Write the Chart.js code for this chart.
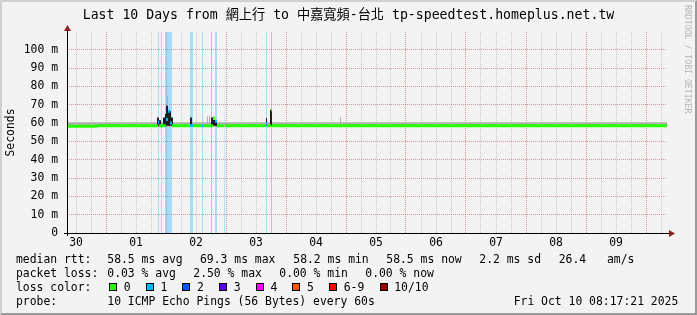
<!DOCTYPE html>
<html>
<head>
<meta charset="utf-8">
<script src="https://cdn.jsdelivr.net/npm/chart.js@4.4.1/dist/chart.umd.min.js"></script>
<style>
  html, body { margin: 0; padding: 0; background: #f3f3f3; }
  #wrap { position: relative; width: 697px; height: 315px; overflow: hidden; background: #f3f3f3;
          font-family: 'DejaVu Sans Mono', 'Noto Sans CJK TC', monospace; color: #000; }
  #chart { position: absolute; left: 0; top: 0; }
  #frame { position: absolute; left: 0; top: 0; width: 697px; height: 315px; box-sizing: border-box;
           border-style: solid; border-width: 2px; border-color: #d0d0d0 #9a9a9a #9a9a9a #d0d0d0; pointer-events: none; }
  .t { position: absolute; white-space: pre; font-size: 11.4px; line-height: 14px; }
  #title { position: absolute; left: 0; width: 697px; top: 6px; text-align: center; font-size: 13.2px; line-height: 17px; white-space: pre; }
  #mark { position: absolute; left: 683px; top: 5px; writing-mode: vertical-rl; font-size: 8.2px; line-height: 10px; color: #b4b4b4; }
  .box { position: absolute; width: 6px; height: 6px; border: 1px solid #000; }
</style>
</head>
<body>
<div id="wrap">
  <canvas id="chart" width="697" height="315"></canvas>
  <div id="title">Last 10 Days from 網上行 to 中嘉寬頻-台北 tp-speedtest.homeplus.net.tw</div>
  <div id="mark">RRDTOOL / TOBI OETIKER</div>
  <div id="legend"></div>
  <div id="frame"></div>
</div>
<script>
// time axis: hours since Sep 30 00:00, graph ends Oct 10 08:24
const xStart = 8.4;
const xEnd = 248.4;
const yMax = 109.7; // ms
const dayLabels = ['30', '01', '02', '03', '04', '05', '06', '07', '08', '09']; // shown at noon

// loss background bars (hours) and number of lost pings
const lossStart = [44.8, 46.0, 47.6, 57.6, 62.4, 66.0, 67.6, 71.2, 88.0, 90.0];
const lossEnd   = [45.2, 46.4, 50.4, 58.8, 62.8, 66.4, 68.4, 71.6, 88.4, 90.4];
const lossCount = [1, 1, 1, 1, 1, 1, 1, 1, 1, 1];

// light smoke band (spread of the 10 pings) plus its spikes
const smokeBase = 58.0;
const smokeBandTop = 60.4;
const smokeStart = [48.4, 64.4, 65.2, 117.6];
const smokeEnd   = [48.8, 64.8, 65.6, 118.0];
const smokeTop   = [75.0, 63.6, 64.0, 63.5];

// dark smoke spikes
const darkBase = 58.5;
const darkStart = [44.4, 45.2, 46.8, 47.6, 48.0, 48.8, 50.0, 57.6, 66.0, 66.8, 88.0, 89.6];
const darkEnd   = [45.2, 46.0, 47.6, 48.0, 48.8, 50.0, 50.8, 58.4, 66.8, 68.4, 88.4, 90.4];
const darkTop   = [63.0, 61.5, 63.0, 65.0, 69.4, 66.5, 63.0, 63.0, 63.0, 61.7, 62.8, 67.2];

// median rtt, step values from each start hour to the next
const medianStart = [8.4, 20.4, 44.8, 45.2, 46.0, 46.4, 47.6, 48.0, 48.8, 49.6, 50.4, 57.6, 58.8, 62.4, 62.8, 66.0, 66.4, 66.8, 67.6, 68.4, 71.2, 71.6, 88.0, 88.4, 90.0, 90.4];
const medianMs    = [58.3, 58.5, 60.5, 58.5, 58.5, 58.5, 58.5, 62.0, 66.5, 60.0, 58.5, 58.7, 58.5, 58.5, 58.5, 58.5, 58.5, 62.8, 61.0, 58.5, 58.5, 58.5, 59.5, 58.5, 67.3, 58.5];
const medianLoss  = [0, 0, 1, 0, 1, 0, 1, 1, 1, 1, 0, 1, 0, 1, 0, 1, 0, 0, 1, 0, 1, 0, 1, 0, 0, 0];

// legend
const lossLabels = ['0', '1', '2', '3', '4', '5', '6-9', '10/10'];
const lossColors = ['#26ff00', '#00b8ff', '#0059ff', '#5e00ff', '#ff00ff', '#ff5500', '#ff0000', '#a00000'];
const statsRtt  = ['median rtt:', '58.5 ms avg', '69.3 ms max', '58.2 ms min', '58.5 ms now', '2.2 ms sd', '26.4', 'am/s'];
const statsLoss = ['packet loss:', '0.03 % avg', '2.50 % max', '0.00 % min', '0.00 % now'];
const probeText = ['probe:', '10 ICMP Echo Pings (56 Bytes) every 60s', 'Fri Oct 10 08:17:21 2025'];

function lossIndex(n) {
    if (n <= 5) return n;
    if (n < 10) return 6;
    return 7;
}

function hexAlpha(hex, a) {
    const v = parseInt(hex.slice(1), 16);
    return 'rgba(' + (v >> 16) + ',' + ((v >> 8) & 255) + ',' + (v & 255) + ',' + a + ')';
}

// horizontal pieces separated by gaps, sorted by start
function pieces(starts, ends, tops) {
    const order = starts.map((s, i) => i).sort((a, b) => starts[a] - starts[b]);
    const pts = [];
    order.forEach(i => {
        pts.push({ x: starts[i], y: tops[i] }, { x: ends[i], y: tops[i] }, { x: ends[i], y: null });
    });
    return pts;
}

// ---- build datasets ----
const datasets = [];

// median, one dataset per loss colour
const medianEnd = medianStart.slice(1).concat([xEnd]);
[...new Set(medianLoss)].forEach(n => {
    const idx = medianStart.map((s, i) => i).filter(i => medianLoss[i] === n);
    datasets.push({
        data: pieces(idx.map(i => medianStart[i]), idx.map(i => medianEnd[i]), idx.map(i => medianMs[i])),
        borderColor: lossColors[lossIndex(n)],
        borderWidth: 3,
        fill: false,
        order: 1
    });
});

function area(data, color, base, order) {
    return { data: data, borderColor: 'transparent', borderWidth: 0, backgroundColor: color, fill: { value: base }, order: order };
}

datasets.push(area(pieces(darkStart, darkEnd, darkTop), '#1e1e1e', darkBase, 2));
datasets.push(area(pieces(smokeStart, smokeEnd, smokeTop), '#b0b0b0', smokeBase, 3));
datasets.push(area(pieces([xStart], [xEnd], [smokeBandTop]), '#b0b0b0', smokeBase, 3));

[...new Set(lossCount)].forEach(n => {
    const idx = lossStart.map((s, i) => i).filter(i => lossCount[i] === n);
    datasets.push(area(pieces(idx.map(i => lossStart[i]), idx.map(i => lossEnd[i]), idx.map(() => yMax)),
        hexAlpha(lossColors[lossIndex(n)], 0.33), 0, 4));
});

const GRID = 'rgba(140,140,140,0.45)';
const MGRID = 'rgba(170,40,40,0.45)';

// axis lines with arrows like rrdtool
const axisArrows = {
    id: 'axisArrows',
    afterDraw(chart) {
        const { ctx, chartArea: a } = chart;
        const x0 = a.left + 0.5, y0 = a.bottom + 0.5;
        ctx.save();
        ctx.strokeStyle = '#000';
        ctx.lineWidth = 1;
        ctx.beginPath();
        ctx.moveTo(x0, a.top - 3);
        ctx.lineTo(x0, a.bottom + 3);
        ctx.moveTo(a.left - 3, y0);
        ctx.lineTo(a.right + 3, y0);
        ctx.stroke();
        ctx.fillStyle = '#8c1e1e';
        ctx.beginPath();
        ctx.moveTo(x0, a.top - 7);
        ctx.lineTo(x0 - 3.5, a.top - 1);
        ctx.lineTo(x0 + 3.5, a.top - 1);
        ctx.fill();
        ctx.beginPath();
        ctx.moveTo(a.right + 8, y0);
        ctx.lineTo(a.right + 2, y0 - 3.5);
        ctx.lineTo(a.right + 2, y0 + 3.5);
        ctx.fill();
        ctx.restore();
    }
};

Chart.defaults.font.family = "'DejaVu Sans Mono', monospace";
Chart.defaults.font.size = 11.4;
Chart.defaults.color = '#000';

new Chart(document.getElementById('chart').getContext('2d'), {
    type: 'line',
    data: { datasets: datasets },
    options: {
        responsive: false,
        animation: false,
        events: [],
        layout: { padding: { left: 0, top: 32, right: 30, bottom: 0 } },
        elements: { point: { radius: 0 }, line: { tension: 0, borderCapStyle: 'butt' } },
        plugins: { legend: { display: false }, tooltip: { enabled: false } },
        scales: {
            x: {
                type: 'linear',
                min: xStart,
                max: xEnd,
                afterFit: s => { s.height = 82; },
                // every 6 hours, aligned to midnight
                afterBuildTicks: s => {
                    const t = [];
                    for (let h = Math.ceil(xStart / 6) * 6; h < xEnd; h += 6) t.push({ value: h });
                    s.ticks = t;
                },
                ticks: {
                    autoSkip: false,
                    maxRotation: 0,
                    padding: 3,
                    callback: v => (v % 24 === 12 ? dayLabels[(v - 12) / 24] : '')
                },
                grid: { color: c => (c.tick && c.tick.value % 24 === 0 ? MGRID : GRID), drawTicks: false },
                border: { display: false, dash: [1, 1] }
            },
            y: {
                min: 0,
                max: yMax,
                afterFit: s => { s.width = 67; },
                ticks: {
                    stepSize: 5,
                    includeBounds: false,
                    padding: 9,
                    callback: v => (v % 10 === 0 ? (v === 0 ? '0' : v + ' m') : '')
                },
                grid: {
                    color: c => {
                        if (!c.tick || c.tick.value === 0) return 'transparent';
                        return c.tick.value % 10 === 0 ? MGRID : GRID;
                    },
                    drawTicks: false
                },
                border: { display: false, dash: [1, 1] },
                title: { display: true, text: 'Seconds', padding: { top: 4, bottom: 0 } }
            }
        }
    },
    plugins: [axisArrows]
});

// ---- text legend below the plot ----
const legend = document.getElementById('legend');
function addText(x, yc, str) {
    const d = document.createElement('div');
    d.className = 't';
    d.style.left = x + 'px';
    d.style.top = (yc - 7) + 'px';
    d.textContent = str;
    legend.appendChild(d);
}
const rttX = [16, 107.3, 200, 293.3, 386.3, 479.3, 558.7, 607];
statsRtt.forEach((s, i) => addText(rttX[i], 259.3, s));
const lossX = [16, 107.3, 193.3, 279.3, 365.3];
statsLoss.forEach((s, i) => addText(lossX[i], 273.3, s));
addText(16, 287.3, 'loss color:');
let bx = 109;
lossLabels.forEach((lab, i) => {
    const b = document.createElement('div');
    b.className = 'box';
    b.style.left = bx + 'px';
    b.style.top = '283px';
    b.style.background = lossColors[i];
    legend.appendChild(b);
    addText(bx + 14.7, 287.3, lab);
    bx += 14.7 + lab.length * 6.88 + 15.1;
});
const probeX = [16, 107.3, 513.7];
probeText.forEach((s, i) => addText(probeX[i], 301.3, s));
</script>
</body>
</html>
